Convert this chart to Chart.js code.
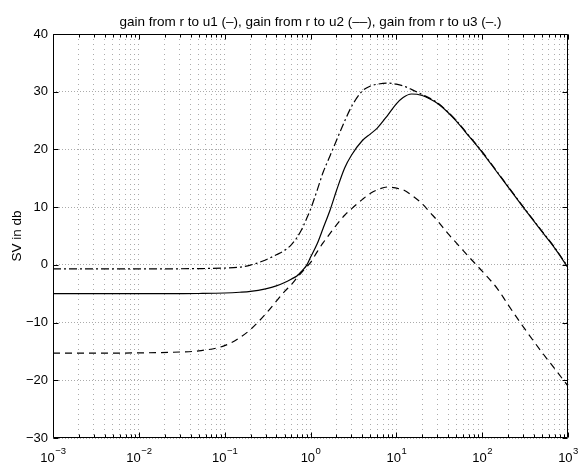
<!DOCTYPE html>
<html><head><meta charset="utf-8">
<script src="https://cdn.jsdelivr.net/npm/chart.js@4/dist/chart.umd.min.js"></script>
<style>html,body{margin:0;padding:0;background:#fff;}#c{display:block}</style>
</head><body>
<canvas id="c" width="580" height="464"></canvas>
<script>
// ---- data ----
const titleText = 'gain from r to u1 (\u2013), gain from r to u2 (\u2013\u2013), gain from r to u3 (\u2013.)';
const yAxisLabel = 'SV in db';
const freq = [0.001, 0.003, 0.01, 0.03, 0.05, 0.1, 0.15, 0.2, 0.3, 0.4, 0.5, 0.6, 0.7, 0.8, 0.9, 1, 1.2, 1.4, 1.7, 2, 2.5, 3, 4, 5, 6, 8, 10, 12, 15, 20, 25, 30, 40, 50, 70, 100, 150, 200, 300, 500, 700, 1000];
const u1 = [-5.0, -5.0, -5.0, -4.98, -4.96, -4.88, -4.75, -4.6, -4.15, -3.65, -3.05, -2.45, -1.9, -1.0, -0.1, 1.3, 3.7, 6.3, 9.6, 12.8, 16.8, 19.0, 21.5, 22.7, 23.7, 26.0, 27.9, 29.0, 29.6, 29.35, 28.7, 28.0, 26.4, 24.9, 22.3, 19.5, 16.0, 13.5, 10.0, 5.7, 2.9, -0.5];
const u2 = [-15.3, -15.3, -15.25, -15.1, -14.9, -14.0, -12.6, -11.2, -8.5, -6.3, -4.6, -3.4, -2.2, -1.2, -0.35, 0.4, 2.3, 3.8, 5.5, 6.9, 8.6, 9.7, 11.3, 12.4, 13.0, 13.5, 13.3, 13.0, 12.1, 10.6, 9.0, 7.7, 5.4, 3.8, 1.4, -1.1, -4.1, -6.9, -10.7, -15.2, -18.0, -21.0];
const u3 = [-0.7, -0.7, -0.7, -0.68, -0.65, -0.55, -0.4, -0.05, 0.85, 1.75, 2.5, 3.5, 4.8, 6.3, 8.0, 9.6, 13.0, 16.0, 19.0, 21.5, 24.9, 27.4, 30.1, 31.0, 31.3, 31.5, 31.3, 31.0, 30.4, 29.5, 28.8, 28.1, 26.5, 25.0, 22.4, 19.6, 16.1, 13.6, 10.1, 5.8, 3.0, -0.4];
const xDecadeExps = [-3, -2, -1, 0, 1, 2, 3];
const yTicks = [-30, -20, -10, 0, 10, 20, 30, 40];

// ---- helpers ----
const FONT = 'Liberation Sans, Arial, Helvetica, sans-serif';
const pts = ys => freq.map((f, i) => ({x: f, y: ys[i]}));
const xGridValues = [];
for (let k = 0; k < xDecadeExps.length - 1; k++) {
  for (let m = 1; m <= 9; m++) xGridValues.push(parseFloat((m * Math.pow(10, xDecadeExps[k])).toPrecision(3)));
}
xGridValues.push(Math.pow(10, xDecadeExps[xDecadeExps.length - 1]));
const minus = s => String(s).replace('-', '\u2212');

const framePlugin = {
  id: 'frame',
  afterDraw(chart) {
    const ctx = chart.ctx, a = chart.chartArea;
    const xs = chart.scales.x, ys = chart.scales.y;
    const L = Math.round(a.left) + 0.5, R = Math.round(a.right) - 0.5;
    const T = Math.round(a.top) + 0.5, B = Math.round(a.bottom) - 0.5;
    ctx.save();
    ctx.strokeStyle = '#000';
    ctx.lineWidth = 1;
    ctx.setLineDash([]);
    ctx.beginPath();
    ctx.rect(L, T, R - L, B - T);
    xGridValues.forEach(v => {
      const px = Math.round(xs.getPixelForValue(v)) + 0.5;
      const major = Math.abs(Math.log10(v) - Math.round(Math.log10(v))) < 1e-9;
      const len = major ? 5 : 3;
      ctx.moveTo(px, B); ctx.lineTo(px, B - len);
      ctx.moveTo(px, T); ctx.lineTo(px, T + len);
    });
    yTicks.forEach(v => {
      const py = Math.round(ys.getPixelForValue(v)) + 0.5;
      ctx.moveTo(L, py); ctx.lineTo(L + 5, py);
      ctx.moveTo(R, py); ctx.lineTo(R - 5, py);
    });
    ctx.stroke();
    ctx.fillStyle = '#000';
    ctx.textBaseline = 'alphabetic';
    ctx.textAlign = 'left';
    xDecadeExps.forEach(e => {
      const px = xs.getPixelForValue(Math.pow(10, e));
      ctx.font = '13px ' + FONT;
      const wb = ctx.measureText('10').width;
      const es = minus(e);
      ctx.font = '9.5px ' + FONT;
      const we = ctx.measureText(es).width;
      const x0 = px - (wb + we) / 2;
      ctx.font = '13px ' + FONT;
      ctx.fillText('10', x0, 462);
      ctx.font = '9.5px ' + FONT;
      ctx.fillText(es, x0 + wb + 0.5, 454);
    });
    ctx.restore();
  }
};

const lineDs = (label, ys, dash) => ({
  label, data: pts(ys), borderColor: '#000', backgroundColor: '#000',
  borderWidth: 1.2, pointRadius: 0, borderDash: dash, fill: false,
  cubicInterpolationMode: 'monotone'
});

new Chart(document.getElementById('c').getContext('2d'), {
  type: 'line',
  data: {datasets: [
    lineDs('u1', u1, []),
    lineDs('u2', u2, [7, 5]),
    lineDs('u3', u3, [8, 3, 2, 3])
  ]},
  options: {
    responsive: false, animation: false, devicePixelRatio: 1,
    layout: {padding: {left: 0, right: 12, top: 0, bottom: 0}},
    plugins: {
      legend: {display: false}, tooltip: {enabled: false},
      title: {display: true, text: titleText, color: '#000', fullSize: false,
        font: {family: FONT, size: 13.5, weight: 'normal', lineHeight: 1.2},
        padding: {top: 14.2, bottom: 3.6}}
    },
    scales: {
      x: {
        type: 'logarithmic', min: 0.001, max: 1000,
        afterBuildTicks: s => { s.ticks = xGridValues.map(v => ({value: v})); },
        afterFit: s => { s.height = 26; },
        ticks: {display: false},
        grid: {color: '#ababab', lineWidth: 1, drawTicks: false},
        border: {display: false, dash: [1, 4]}
      },
      y: {
        min: -30, max: 40,
        afterBuildTicks: s => { s.ticks = yTicks.map(v => ({value: v})); },
        afterFit: s => { s.width = 53; },
        ticks: {color: '#000', font: {family: FONT, size: 13}, padding: 5, callback: v => minus(v)},
        grid: {color: '#ababab', lineWidth: 1, drawTicks: false},
        border: {display: false, dash: [1, 2]},
        title: {display: true, text: yAxisLabel, color: '#000',
          font: {family: FONT, size: 13.5, lineHeight: 1.2}, padding: {top: 9, bottom: 0}}
      }
    }
  },
  plugins: [framePlugin]
});
</script>
</body></html>
